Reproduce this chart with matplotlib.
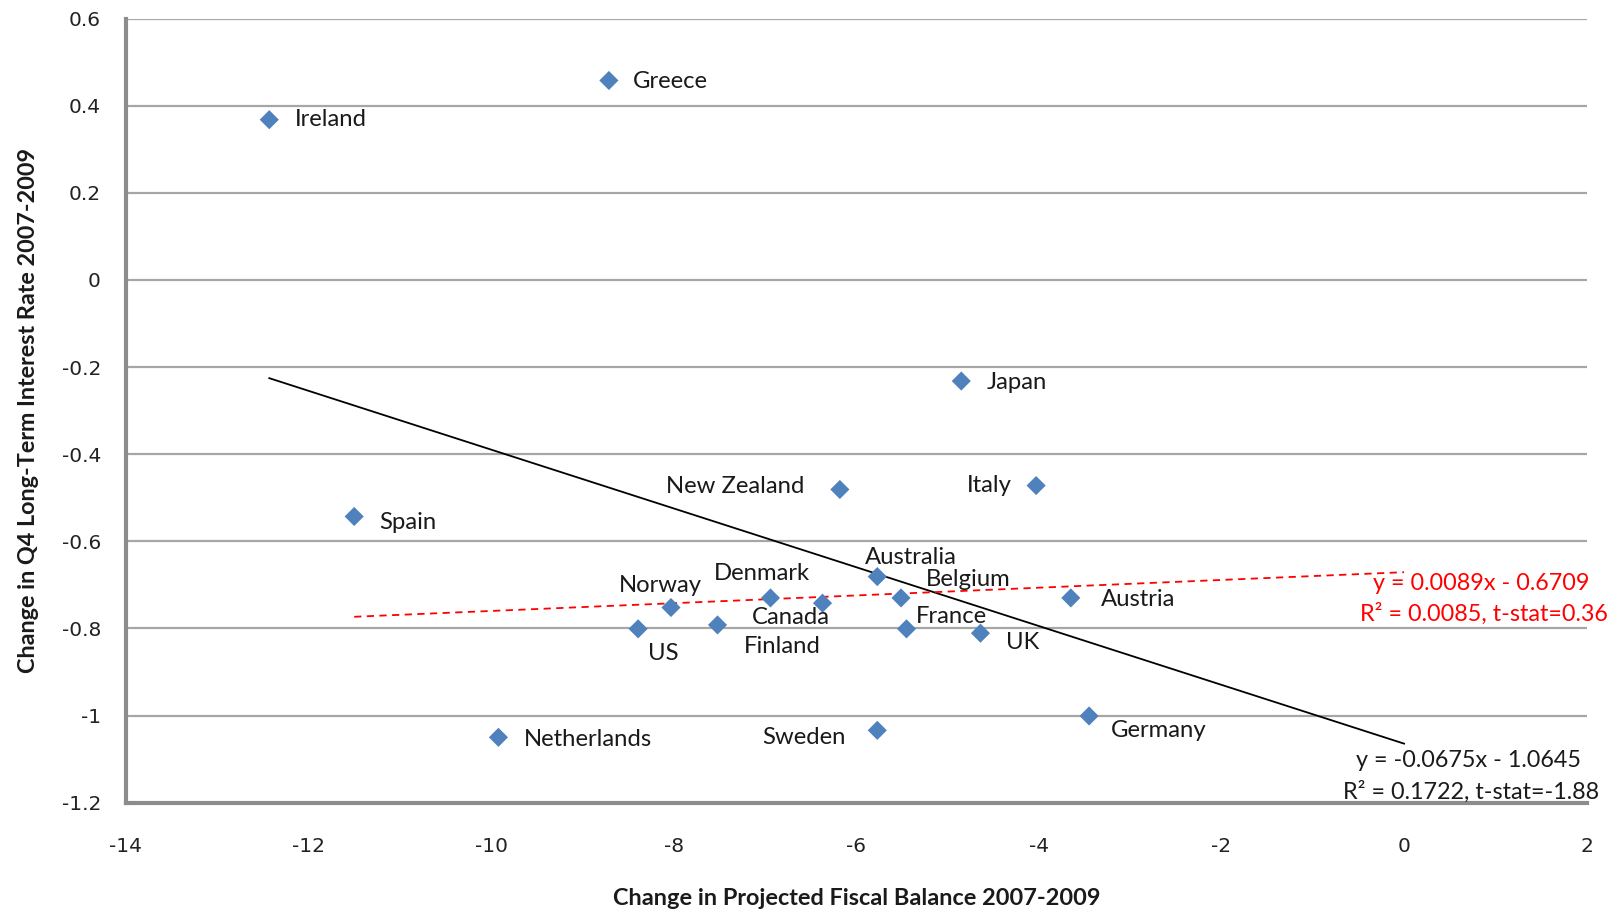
import matplotlib
matplotlib.use("Agg")
import matplotlib.pyplot as plt
import numpy as np

# Fiscal balance change vs. change in long-term rates, 2007-2009
countries = ["Ireland", "Greece", "Spain", "Japan", "New Zealand", "Italy",
             "Australia", "Belgium", "Denmark", "Canada", "Norway", "US",
             "Finland", "France", "UK", "Austria", "Germany", "Sweden",
             "Netherlands"]
fiscal_change = [-12.43, -8.71, -11.50, -4.85, -6.18, -4.03,
                 -5.77, -5.51, -6.94, -6.37, -8.03, -8.39,
                 -7.52, -5.45, -4.64, -3.65, -3.45, -5.77,
                 -9.92]
rate_change = [0.368, 0.458, -0.543, -0.232, -0.481, -0.472,
               -0.681, -0.730, -0.730, -0.742, -0.752, -0.801,
               -0.792, -0.801, -0.811, -0.730, -1.001, -1.034,
               -1.050]

x_ticks = [-14, -12, -10, -8, -6, -4, -2, 0, 2]
y_ticks = [-1.2, -1.0, -0.8, -0.6, -0.4, -0.2, 0.0, 0.2, 0.4, 0.6]
y_tick_labels = ["-1.2", "-1", "-0.8", "-0.6", "-0.4", "-0.2", "0", "0.2", "0.4", "0.6"]

# fitted lines: slope, intercept, x-range
fit_all = (-0.0675, -1.0645, -12.43, 0.0)
fit_sub = (0.0089, -0.6709, -11.50, 0.0)

# label placement: (dx, dy) in pixels from the marker, horizontal alignment
label_pos = {
    "Ireland": (26, 0, "left"), "Greece": (24, -1, "left"),
    "Spain": (25, -6, "left"), "Japan": (25, -1, "left"),
    "New Zealand": (-35, 3, "right"), "Italy": (-24, 0, "right"),
    "Australia": (-12, 19, "left"), "Belgium": (25, 18, "left"),
    "Denmark": (-9, 24, "center"), "Canada": (-32, -14, "center"),
    "Norway": (-11, 22, "center"), "US": (25, -25, "center"),
    "Finland": (26, -22, "left"), "France": (9, 12, "left"),
    "UK": (26, -9, "left"), "Austria": (30, -2, "left"),
    "Germany": (22, -15, "left"), "Sweden": (-32, -7, "right"),
    "Netherlands": (25, -2, "left"),
}

plt.rcParams['font.family'] = ['Lato', 'DejaVu Sans']

fig = plt.figure(figsize=(16.19, 9.09), dpi=100)
ax = fig.add_axes([0.0778, 0.117, 0.9022, 0.8625])

ax.set_xlim(-14, 2)
ax.set_ylim(-1.2, 0.6)
ax.set_xticks(x_ticks)
ax.set_yticks(y_ticks)
ax.set_xticklabels([str(v) for v in x_ticks],
                   family='DejaVu Sans', fontsize=14.5, color='#222222')
ax.set_yticklabels(y_tick_labels,
                   family='DejaVu Sans', fontsize=14.5, color='#222222')
ax.tick_params(axis='x', length=0, pad=25)
ax.tick_params(axis='y', length=0, pad=18)

ax.grid(axis='y', color='#a6a6a6', linewidth=1.6)
ax.set_axisbelow(True)
for side in ['top', 'right']:
    ax.spines[side].set_visible(False)
for side in ['left', 'bottom']:
    ax.spines[side].set_color('#8c8c8c')
    ax.spines[side].set_linewidth(3)

# trend lines
for slope, icpt, x0, x1, style in [(*fit_all, dict(color='black', lw=1.3, ls='-')),
                                   (*fit_sub, dict(color='red', lw=1.3, ls=(0, (4, 3))))]:
    xs = np.array([x0, x1])
    ax.plot(xs, slope * xs + icpt, zorder=2, **style)

ax.scatter(fiscal_change, rate_change, marker='D', s=95, color='#4f81bd',
           edgecolor='none', zorder=3)

for name, x, y in zip(countries, fiscal_change, rate_change):
    dx, dy, ha = label_pos[name]
    ax.annotate(name, (x, y), xytext=(dx, dy), textcoords='offset pixels',
                ha=ha, va='center', fontsize=17.2, color='#1a1a1a', zorder=4)

ax.text(2.03, -0.697, f"y = {fit_sub[0]:.4f}x - {abs(fit_sub[1]):.4f}",
        ha='right', va='center', fontsize=16.8, color='red')
ax.text(2.23, -0.766, "R² = 0.0085, t-stat=0.36",
        ha='right', va='center', fontsize=16.8, color='red')
ax.text(1.94, -1.103, f"y = {fit_all[0]:.4f}x - {abs(fit_all[1]):.4f}",
        ha='right', va='center', fontsize=16.8, color='#1a1a1a')
ax.text(2.135, -1.176, "R² = 0.1722, t-stat=-1.88",
        ha='right', va='center', fontsize=16.8, color='#1a1a1a')

ax.set_xlabel("Change in Projected Fiscal Balance 2007-2009", fontsize=16.9,
              fontweight='bold', color='#1a1a1a', labelpad=23)
ax.set_ylabel("Change in Q4 Long-Term Interest Rate 2007-2009", fontsize=16.8,
              fontweight='bold', color='#1a1a1a', labelpad=16)

fig.savefig("out.png", dpi=100)
